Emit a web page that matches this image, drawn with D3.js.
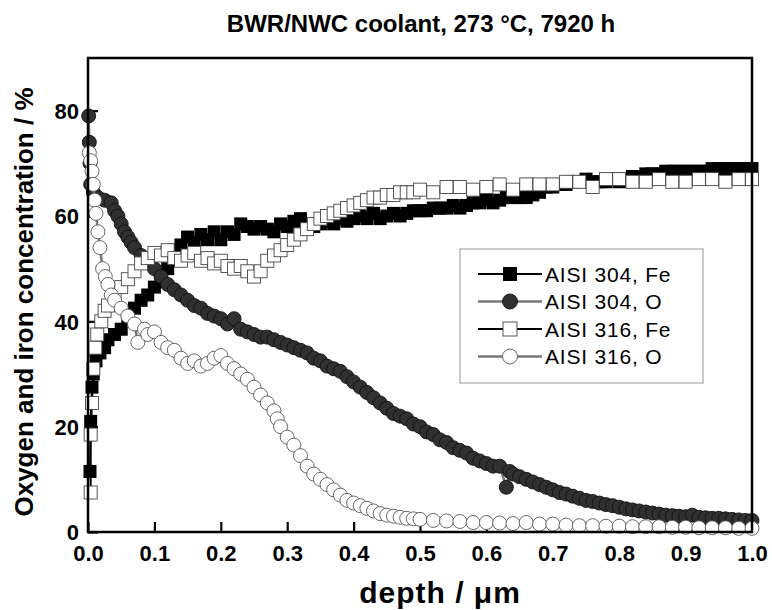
<!DOCTYPE html>
<html>
<head>
<meta charset="utf-8">
<script src="https://cdn.jsdelivr.net/npm/d3@7"></script>
<style>
    body { margin: 0; background: #fff; }
    svg { display: block; font-family: "Liberation Sans", Arial, sans-serif; }
</style>
</head>
<body>
<svg id="chart" width="772" height="610"></svg>
<script>
// depth (um), concentration (%)
let fe304 = [
    [0.003, 11.5], [0.004, 21], [0.006, 27.5], [0.008, 30], [0.012, 32.5], [0.018, 34], [0.025, 35], [0.03, 36.5],
    [0.04, 37.5], [0.05, 38.5], [0.06, 40.5], [0.07, 42.5], [0.08, 44], [0.09, 45], [0.10, 46.5], [0.11, 47.5],
    [0.12, 50], [0.13, 53.5], [0.14, 54.5], [0.15, 56], [0.16, 55], [0.17, 56.5], [0.18, 55.5], [0.19, 57],
    [0.20, 55.5], [0.21, 57], [0.22, 56.5], [0.23, 58.5], [0.24, 58], [0.25, 57.5], [0.26, 58], [0.27, 57.5],
    [0.28, 57], [0.29, 58.5], [0.30, 58], [0.31, 59], [0.32, 59.5], [0.33, 58.5], [0.34, 58], [0.35, 58.5],
    [0.36, 59], [0.37, 58.5], [0.38, 59.5], [0.39, 59], [0.40, 59.5], [0.41, 60], [0.42, 59.5], [0.43, 60.5],
    [0.44, 59.5], [0.45, 60], [0.46, 60.5], [0.47, 60], [0.48, 60.5], [0.49, 61], [0.50, 61], [0.51, 61],
    [0.52, 61.5], [0.53, 61.5], [0.54, 61.5], [0.55, 62], [0.56, 61.5], [0.57, 62], [0.58, 62.5], [0.59, 62.5],
    [0.60, 63], [0.61, 62.5], [0.62, 63], [0.63, 63.5], [0.64, 63.5], [0.65, 63.5], [0.66, 63.5], [0.67, 64],
    [0.68, 64.5], [0.69, 65.5], [0.70, 65.5], [0.71, 66], [0.72, 66], [0.73, 66.5], [0.74, 66.5], [0.75, 67],
    [0.76, 66.5], [0.77, 66.5], [0.78, 66.5], [0.79, 67], [0.80, 66.5], [0.81, 67], [0.82, 67.5], [0.83, 67.5],
    [0.84, 68], [0.85, 68], [0.86, 68], [0.87, 68.5], [0.88, 68.5], [0.89, 68.5], [0.90, 68.5], [0.91, 68.5],
    [0.92, 68.5], [0.93, 68.5], [0.94, 69], [0.95, 69], [0.96, 69], [0.97, 69], [0.98, 69], [0.99, 69], [1.0, 69]
];

let o304 = [
    [0.001, 79], [0.002, 74], [0.003, 70], [0.004, 66], [0.008, 64.5], [0.015, 63.5], [0.025, 63], [0.035, 62.5],
    [0.04, 61], [0.045, 60], [0.05, 58.5], [0.055, 57], [0.06, 56], [0.065, 55], [0.07, 54], [0.08, 52.5],
    [0.09, 51.5], [0.10, 50], [0.11, 48.5], [0.12, 47], [0.13, 46], [0.14, 45], [0.15, 44], [0.16, 43],
    [0.17, 42.5], [0.18, 41.5], [0.19, 41], [0.20, 40.5], [0.21, 39.5], [0.22, 40.5], [0.23, 38.5], [0.24, 38],
    [0.25, 37.5], [0.26, 37], [0.27, 37], [0.28, 36.5], [0.29, 36], [0.30, 35.5], [0.31, 35], [0.32, 34.5],
    [0.33, 34], [0.34, 33], [0.35, 32.5], [0.36, 31.5], [0.37, 31], [0.38, 30.5], [0.39, 29.5], [0.40, 28.5],
    [0.41, 27.5], [0.42, 26.5], [0.43, 25.5], [0.44, 24.5], [0.45, 23.5], [0.46, 22.5], [0.47, 22], [0.48, 21.5],
    [0.49, 20.5], [0.50, 20], [0.51, 19], [0.52, 18.5], [0.53, 17.5], [0.54, 17], [0.55, 16], [0.56, 15.5],
    [0.57, 15], [0.58, 14], [0.59, 13.5], [0.60, 13], [0.61, 12.5], [0.62, 12.5], [0.63, 8.5], [0.635, 11.5],
    [0.64, 11], [0.65, 10.5], [0.66, 10], [0.67, 9.5], [0.68, 9], [0.69, 8.5], [0.70, 8], [0.71, 7.5],
    [0.72, 7.2], [0.73, 6.8], [0.74, 6.4], [0.75, 6], [0.76, 5.8], [0.77, 5.5], [0.78, 5.2], [0.79, 5],
    [0.80, 4.7], [0.81, 4.4], [0.82, 4.2], [0.83, 4], [0.84, 3.8], [0.85, 3.6], [0.86, 3.4], [0.87, 3.2],
    [0.88, 3.1], [0.89, 3], [0.90, 2.9], [0.91, 3.2], [0.92, 2.8], [0.93, 2.7], [0.94, 2.6], [0.95, 2.6],
    [0.96, 2.5], [0.97, 2.4], [0.98, 2.3], [0.99, 2.2], [1.0, 2.2]
];

let fe316 = [
    [0.004, 7.5], [0.004, 18.5], [0.006, 24.5], [0.008, 31], [0.011, 35], [0.014, 37.5], [0.02, 40], [0.025, 42],
    [0.03, 43], [0.04, 45], [0.05, 46.5], [0.06, 48], [0.07, 49.5], [0.08, 51], [0.09, 52], [0.10, 53],
    [0.11, 52.5], [0.12, 53.5], [0.13, 52], [0.14, 51.5], [0.15, 52.5], [0.16, 53], [0.17, 51.5], [0.18, 52],
    [0.19, 51], [0.20, 51.5], [0.21, 50.5], [0.22, 50], [0.23, 50.5], [0.24, 49.5], [0.25, 48.5], [0.26, 49.5],
    [0.27, 51.5], [0.28, 52.5], [0.29, 53.5], [0.30, 54.5], [0.31, 55.5], [0.32, 56.5], [0.33, 57.5], [0.34, 58.5],
    [0.35, 59.5], [0.36, 60], [0.37, 60.5], [0.38, 61], [0.39, 61.5], [0.40, 62], [0.41, 62.5], [0.42, 63],
    [0.43, 63.5], [0.44, 63.5], [0.45, 64], [0.46, 64], [0.47, 64.5], [0.48, 64.5], [0.49, 64.5], [0.50, 65],
    [0.52, 64.5], [0.54, 65.5], [0.56, 65.5], [0.58, 65], [0.60, 65.5], [0.62, 66], [0.64, 65], [0.66, 66],
    [0.68, 66], [0.70, 66], [0.72, 66.5], [0.74, 66.5], [0.76, 65.5], [0.78, 67], [0.80, 67], [0.82, 66.5],
    [0.84, 66.5], [0.86, 67], [0.88, 66.5], [0.90, 66.5], [0.92, 67], [0.94, 67], [0.96, 66.5], [0.98, 67], [1.0, 67]
];

let o316 = [
    [0.002, 72], [0.004, 70.5], [0.006, 68.5], [0.008, 66], [0.010, 63], [0.012, 60.5], [0.015, 57], [0.018, 54],
    [0.022, 50], [0.026, 48.5], [0.03, 47], [0.035, 45], [0.04, 44], [0.05, 42.5], [0.06, 41], [0.07, 39.5],
    [0.075, 36], [0.085, 38.5], [0.09, 37.5], [0.10, 38], [0.11, 36], [0.12, 35], [0.13, 34.5], [0.14, 33],
    [0.15, 32], [0.16, 32.5], [0.17, 31.5], [0.18, 32], [0.19, 33], [0.20, 33.5], [0.21, 32], [0.22, 31],
    [0.23, 30], [0.24, 29], [0.25, 27.5], [0.26, 26], [0.27, 24.5], [0.28, 23], [0.285, 21.5], [0.29, 20],
    [0.30, 18], [0.31, 16.5], [0.32, 14.5], [0.33, 12.5], [0.34, 11], [0.35, 10], [0.36, 9], [0.37, 8],
    [0.38, 7], [0.39, 6], [0.40, 5.5], [0.41, 5], [0.42, 4.5], [0.43, 4], [0.44, 3.5], [0.45, 3.2],
    [0.46, 3], [0.47, 2.8], [0.48, 2.6], [0.49, 2.5], [0.50, 2.4], [0.52, 2.2], [0.54, 2.1], [0.56, 2],
    [0.58, 1.8], [0.60, 1.8], [0.62, 1.7], [0.64, 1.6], [0.66, 1.8], [0.68, 1.5], [0.70, 1.5], [0.72, 1.3],
    [0.74, 1.2], [0.76, 1.2], [0.78, 1.1], [0.80, 1.1], [0.82, 1.0], [0.84, 1.0], [0.86, 1.0], [0.88, 0.9],
    [0.90, 0.9], [0.92, 0.8], [0.94, 0.8], [0.96, 0.8], [0.98, 0.7], [1.0, 0.7]
];

let xTicks = [0, 0.1, 0.2, 0.3, 0.4, 0.5, 0.6, 0.7, 0.8, 0.9, 1.0];
let yTicks = [0, 20, 40, 60, 80];

let series = [
    { name: "AISI 304, Fe", data: fe304, shape: "square", fill: "#000", stroke: "#000", line: "#000", lineWidth: 2 },
    { name: "AISI 304, O", data: o304, shape: "circle", fill: "#303030", stroke: "#111", line: "#777", lineWidth: 2.5 },
    { name: "AISI 316, Fe", data: fe316, shape: "square", fill: "#fff", stroke: "#444", line: "#000", lineWidth: 2 },
    { name: "AISI 316, O", data: o316, shape: "circle", fill: "#fff", stroke: "#555", line: "#777", lineWidth: 2.5 }
];

let svg = d3.select("#chart");
let plotLeft = 88, plotRight = 752, plotTop = 58, plotBottom = 532;

let x = d3.scaleLinear().domain([0, 1]).range([plotLeft, plotRight]);
let y = d3.scaleLinear().domain([0, 90]).range([plotBottom, plotTop]);

// axes with inward ticks
let xAxis = svg.append("g")
    .attr("transform", "translate(0," + plotBottom + ")")
    .call(d3.axisBottom(x).tickValues(xTicks).tickSize(-10).tickPadding(13).tickFormat(d3.format(".1f")));

let yAxis = svg.append("g")
    .attr("transform", "translate(" + plotLeft + ",0)")
    .call(d3.axisLeft(y).tickValues(yTicks).tickSize(-10).tickPadding(9).tickFormat(d3.format("d")));

[xAxis, yAxis].forEach(function (g) {
    g.select(".domain").remove();
    g.selectAll("line").attr("stroke", "#000").attr("stroke-width", 2.2);
    g.selectAll("text")
        .attr("fill", "#000")
        .style("font-size", "22px")
        .style("font-weight", "bold");
});
yAxis.selectAll("text").attr("dy", "0.36em");

let plot = svg.append("g");

let line = d3.line()
    .x(function (d) { return x(d[0]); })
    .y(function (d) { return y(d[1]); });

function drawMarker(g, s, px, py, big) {
    if (s.shape === "square") {
        let h = big ? 7 : 6.5;
        g.append("rect")
            .attr("x", px - h).attr("y", py - h)
            .attr("width", 2 * h).attr("height", 2 * h)
            .attr("fill", s.fill)
            .attr("stroke", s.stroke)
            .attr("stroke-width", s.fill === "#000" ? 0 : 0.9);
    } else {
        g.append("circle")
            .attr("cx", px).attr("cy", py)
            .attr("r", big ? 7.5 : 7)
            .attr("fill", s.fill)
            .attr("stroke", s.stroke)
            .attr("stroke-width", 0.9);
    }
}

series.forEach(function (s) {
    let g = plot.append("g");
    g.append("path")
        .datum(s.data)
        .attr("d", line)
        .attr("fill", "none")
        .attr("stroke", s.line)
        .attr("stroke-width", s.lineWidth);
    s.data.forEach(function (d) {
        drawMarker(g, s, x(d[0]), y(d[1]), false);
    });
});

// frame
svg.append("rect")
    .attr("x", plotLeft).attr("y", plotTop)
    .attr("width", plotRight - plotLeft).attr("height", plotBottom - plotTop)
    .attr("fill", "none")
    .attr("stroke", "#000")
    .attr("stroke-width", 2.5);

// legend
let legend = svg.append("g").attr("transform", "translate(460,249)");
legend.append("rect")
    .attr("width", 243).attr("height", 134)
    .attr("fill", "#fff")
    .attr("stroke", "#999")
    .attr("stroke-width", 1);

series.forEach(function (s, i) {
    let ly = 25 + i * 27.5;
    let row = legend.append("g");
    row.append("line")
        .attr("x1", 18).attr("x2", 82)
        .attr("y1", ly).attr("y2", ly)
        .attr("stroke", s.line)
        .attr("stroke-width", s.lineWidth);
    drawMarker(row, s, 50, ly, true);
    row.append("text")
        .attr("x", 85).attr("y", ly)
        .attr("dy", "0.36em")
        .style("font-size", "21px")
        .style("letter-spacing", "0.8px")
        .text(s.name);
});

// titles
svg.append("text")
    .attr("x", 421).attr("y", 32)
    .attr("text-anchor", "middle")
    .style("font-size", "24px")
    .style("font-weight", "bold")
    .text("BWR/NWC coolant, 273 °C, 7920 h");

svg.append("text")
    .attr("x", 440).attr("y", 603)
    .attr("text-anchor", "middle")
    .style("font-size", "30px")
    .style("font-weight", "bold")
    .style("letter-spacing", "1px")
    .text("depth / μm");

svg.append("text")
    .attr("transform", "translate(33,302) rotate(-90)")
    .attr("text-anchor", "middle")
    .style("font-size", "26px")
    .style("font-weight", "bold")
    .text("Oxygen and iron concentration / %");
</script>
</body>
</html>
